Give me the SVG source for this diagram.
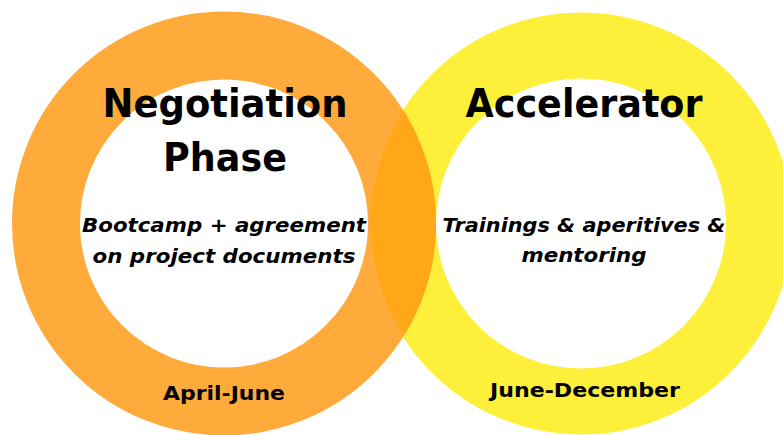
<svg xmlns="http://www.w3.org/2000/svg" width="783" height="435" viewBox="0 0 783 435">
<style>
.t{font-family:"DejaVu Sans","Liberation Sans",sans-serif;font-weight:700;fill:#000;text-anchor:middle}
.h{font-size:39px}
.s{font-size:20px;font-style:italic}
.d{font-size:20px}
</style>
<defs>
<clipPath id="yclip"><path clip-rule="evenodd" d="M371,223a210,210 0 1,0 420,0a210,210 0 1,0 -420,0ZM436,223a145,145 0 1,0 290,0a145,145 0 1,0 -290,0Z"/></clipPath>
</defs>
<rect width="783" height="435" fill="#fff"/>
<g id="connectors"></g>
<g id="accelerator">
<circle cx="581" cy="223.5" r="178" fill="none" stroke="#FEF03A" stroke-width="66"/>
</g>
<g id="negotiation">
<circle cx="224" cy="223.5" r="178" fill="none" stroke="#FFAB3C" stroke-width="68"/>
<circle cx="224" cy="223.5" r="178" fill="none" stroke="#FFA716" stroke-width="68" clip-path="url(#yclip)"/>
</g>
<g id="labels-left">
<text class="t h" x="225" y="117" textLength="245" lengthAdjust="spacingAndGlyphs">Negotiation</text>
<text class="t h" x="225" y="171" textLength="124" lengthAdjust="spacingAndGlyphs">Phase</text>
<text class="t s" x="224" y="232" textLength="284" lengthAdjust="spacingAndGlyphs">Bootcamp + agreement</text>
<text class="t s" x="224" y="263" textLength="263" lengthAdjust="spacingAndGlyphs">on project documents</text>
<text class="t d" x="224" y="400" textLength="122" lengthAdjust="spacingAndGlyphs">April-June</text>
</g>
<g id="labels-right">
<text class="t h" x="584" y="117" textLength="237" lengthAdjust="spacingAndGlyphs">Accelerator</text>
<text class="t s" x="584" y="232" textLength="283" lengthAdjust="spacingAndGlyphs">Trainings &amp; aperitives &amp;</text>
<text class="t s" x="584" y="262" textLength="125" lengthAdjust="spacingAndGlyphs">mentoring</text>
<text class="t d" x="585" y="397" textLength="190" lengthAdjust="spacingAndGlyphs">June-December</text>
</g>
</svg>
